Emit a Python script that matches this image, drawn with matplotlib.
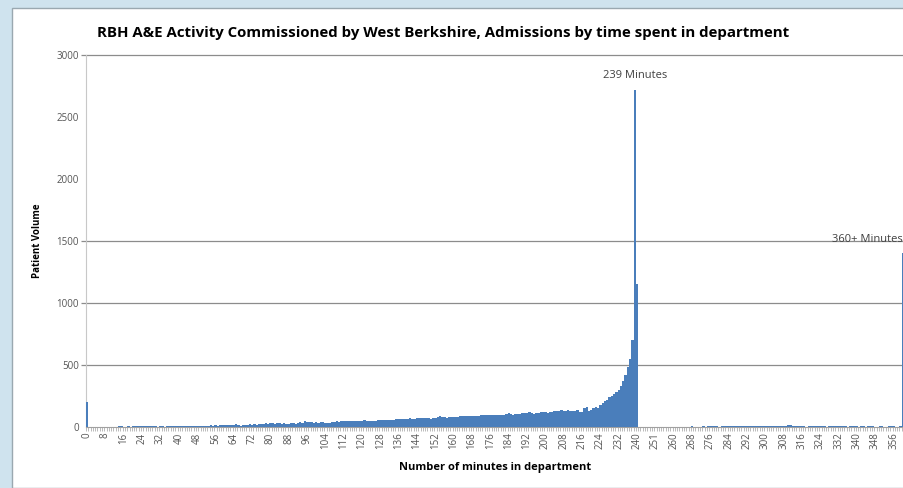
import matplotlib
matplotlib.use("Agg")
import matplotlib.pyplot as plt
from matplotlib.patches import Rectangle
import numpy as np

plt.rcParams['font.family'] = ['Open Sans', 'DejaVu Sans']

# categories: minutes in department (some minutes after 240 have no rows)
minutes = list(range(0, 241)) + list(range(244, 252)) + list(range(253, 360))
labels = [str(m) for m in minutes] + ["360+"]

volume_0_240 = [
    200, 2, 1, 2, 1, 3, 2, 1, 2, 3,
    2, 3, 4, 3, 5, 10, 4, 3, 5, 4,
    6, 9, 10, 5, 11, 12, 9, 6, 12, 8,
    5, 4, 6, 5, 4, 6, 7, 5, 8, 6,
    10, 11, 8, 6, 7, 9, 10, 8, 12, 9,
    7, 10, 12, 9, 13, 11, 14, 12, 15, 16,
    14, 18, 17, 15, 20, 22, 18, 12, 15, 16,
    18, 22, 20, 24, 19, 23, 25, 22, 30, 28,
    35, 30, 27, 31, 29, 26, 30, 28, 25, 32,
    30, 28, 34, 38, 36, 45, 40, 38, 42, 36,
    40, 35, 38, 37, 36, 34, 35, 40, 42, 45,
    44, 46, 48, 47, 45, 48, 46, 45, 50, 47,
    52, 55, 50, 48, 45, 50, 52, 56, 60, 58,
    55, 54, 57, 58, 60, 62, 61, 64, 66, 65,
    68, 70, 67, 65, 72, 70, 73, 71, 74, 70,
    68, 72, 75, 78, 90, 80, 78, 76, 79, 82,
    80, 78, 84, 86, 88, 85, 90, 88, 92, 89,
    87, 91, 95, 93, 96, 98, 97, 99, 96, 95,
    100, 98, 96, 102, 110, 104, 100, 103, 106, 108,
    112, 110, 115, 118, 114, 108, 112, 116, 120, 122,
    118, 115, 125, 120, 128, 126, 130, 135, 132, 130,
    134, 128, 130, 132, 135, 125, 120, 155, 160, 130,
    140, 155, 165, 150, 180, 190, 210, 220, 240, 250,
    265, 285, 300, 330, 370, 420, 480, 550, 700, 2720,
    1150,
]
volume_244_251 = [0, 0, 0, 0, 0, 0, 0, 0]
volume_253_359 = [
    0, 0, 0, 0, 0, 0, 0, 0, 0, 0,
    0, 0, 0, 0, 0, 8, 0, 0, 0, 0,
    6, 0, 8, 10, 7, 9, 6, 0, 8, 10,
    9, 7, 10, 8, 9, 11, 10, 9, 8, 10,
    9, 8, 10, 11, 9, 10, 9, 12, 10, 11,
    9, 10, 11, 12, 10, 9, 11, 13, 15, 12,
    10, 9, 8, 10, 9, 0, 8, 10, 11, 9,
    8, 9, 10, 8, 0, 9, 10, 8, 11, 9,
    10, 8, 9, 0, 10, 9, 11, 8, 0, 9,
    8, 0, 9, 8, 10, 0, 0, 9, 8, 0,
    0, 9, 10, 8, 0, 0, 9,
]
volume_360_plus = 1400

volumes = volume_0_240 + volume_244_251 + volume_253_359 + [volume_360_plus]

y_ticks = [0, 500, 1000, 1500, 2000, 2500, 3000]
grid_values = [500, 1000, 1500, 3000]
annotated = {"239": "239 Minutes", "360+": "360+ Minutes"}

fig = plt.figure(figsize=(9.04, 4.88), dpi=100)
fig.patch.set_facecolor('#cfe3ee')
fig.add_artist(Rectangle((12 / 904, 0), 1.0, 1 - 8 / 488, transform=fig.transFigure,
                         facecolor='white', edgecolor='#9aa8b0', linewidth=1.0, zorder=0))

ax = fig.add_axes([86 / 904, 1 - 427 / 488, 818 / 904, 372 / 488])
ax.set_facecolor('none')

x = np.arange(len(labels))
ax.bar(x, volumes, width=1.0, color='#4a7ebb', linewidth=0, zorder=3)

ax.set_xlim(-0.5, len(labels) - 0.5)
ax.set_ylim(0, 3000)

# gridlines (with their little tick stubs on the left)
ax.hlines(grid_values, -0.006, 1, transform=ax.get_yaxis_transform(),
          colors='#8c8c8c', linewidth=0.9, clip_on=False, zorder=1)

ax.set_yticks(y_ticks)
ax.tick_params(axis='y', length=0, pad=5, labelsize=7, labelcolor='#555555')

ax.set_xticks(x[::8])
ax.set_xticklabels(labels[::8], rotation=90, fontsize=7, color='#555555')
ax.set_xticks(np.arange(-0.5, len(labels), 1), minor=True)
ax.tick_params(axis='x', which='major', length=0, pad=4)
ax.tick_params(axis='x', which='minor', length=3, color='#b0b0b0', width=0.6)

for s in ['top', 'right']:
    ax.spines[s].set_visible(False)
ax.spines['left'].set_color('#c8c8c8')
ax.spines['bottom'].set_color('#a0a0a0')

for key, text in annotated.items():
    i = labels.index(key)
    if key == "360+":
        ax.annotate(text, xy=(i, volumes[i]), xytext=(-51, 10), textcoords='offset points',
                    ha='left', va='center', fontsize=8, color='#404040', annotation_clip=False)
    else:
        ax.annotate(text, xy=(i, volumes[i]), xytext=(0, 10), textcoords='offset points',
                    ha='center', va='center', fontsize=8, color='#404040')

ax.set_ylabel('Patient Volume', fontsize=7, fontweight='bold', labelpad=10)
ax.set_xlabel('Number of minutes in department', fontsize=8, fontweight='bold', labelpad=9)

fig.text(97 / 904, 1 - 33 / 488,
         'RBH A&E Activity Commissioned by West Berkshire, Admissions by time spent in department',
         fontsize=10.8, fontweight='bold', ha='left', va='center')

fig.savefig('out.png', dpi=100)
